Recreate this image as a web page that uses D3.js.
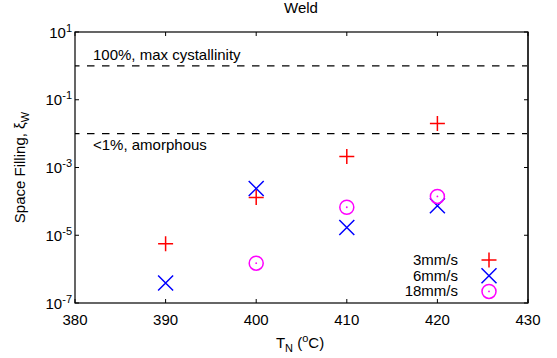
<!DOCTYPE html>
<html>
<head>
<meta charset="utf-8">
<script src="https://cdn.jsdelivr.net/npm/d3@7"></script>
<style>
  body { margin: 0; background: #fff; }
  text { font-family: "Liberation Sans", Arial, sans-serif; fill: #000; }
</style>
</head>
<body>
<svg id="chart" width="557" height="358"></svg>
<script>
// data
const temps = [390, 400, 410, 420];
const fill3 = [5.6e-6, 1.3e-4, 2.1e-3, 2.0e-2];
const fill6 = [3.9e-7, 2.4e-4, 1.7e-5, 7.4e-5];
const fill18 = [null, 1.5e-6, 6.7e-5, 1.4e-4];
const xTicks = [380, 390, 400, 410, 420, 430];
const yTickExps = [1, -1, -3, -5, -7];
const refLines = [
  { v: 1, label: "100%, max cystallinity", above: true },
  { v: 0.01, label: "<1%, amorphous", above: false }
];
const seriesNames = ["3mm/s", "6mm/s", "18mm/s"];

let width = 557, height = 358;
let margin = { left: 75, right: 29, top: 32, bottom: 55 };
let svg = d3.select("#chart");
let fs = 15, fsSmall = 11;

let x = d3.scaleLinear().domain([380, 430]).range([margin.left, width - margin.right]);
let y = d3.scaleLog().domain([1e-7, 1e1]).range([height - margin.bottom, margin.top]);

let x0 = x.range()[0], x1 = x.range()[1], y0 = y.range()[0], y1 = y.range()[1];

// dashed reference lines
refLines.forEach(function(r) {
  svg.append("line")
    .attr("x1", x0).attr("x2", x1)
    .attr("y1", y(r.v)).attr("y2", y(r.v))
    .attr("stroke", "#000").attr("stroke-width", 1.2)
    .attr("stroke-dasharray", "7.5,7.5").attr("stroke-dashoffset", 3);
  svg.append("text")
    .attr("x", x0 + 18)
    .attr("y", r.above ? y(r.v) - 6 : y(r.v) + 16)
    .attr("font-size", fs)
    .text(r.label);
});

// frame
svg.append("rect")
  .attr("x", x0).attr("y", y1)
  .attr("width", x1 - x0).attr("height", y0 - y1)
  .attr("fill", "none").attr("stroke", "#000").attr("stroke-width", 1.2);
svg.append("line").attr("x1", x1).attr("x2", x1).attr("y1", y1).attr("y2", y0)
  .attr("stroke", "#333").attr("stroke-width", 2);

// inward ticks on all sides
let tl = 4;
xTicks.forEach(function(t) {
  svg.append("line").attr("x1", x(t)).attr("x2", x(t)).attr("y1", y0).attr("y2", y0 - tl).attr("stroke", "#000");
  svg.append("line").attr("x1", x(t)).attr("x2", x(t)).attr("y1", y1).attr("y2", y1 + tl).attr("stroke", "#000");
  svg.append("text")
    .attr("x", x(t)).attr("y", y0 + 22)
    .attr("text-anchor", "middle").attr("font-size", fs)
    .text(t);
});
yTickExps.forEach(function(e) {
  let yy = y(Math.pow(10, e));
  svg.append("line").attr("x1", x0).attr("x2", x0 + tl).attr("y1", yy).attr("y2", yy).attr("stroke", "#000");
  svg.append("line").attr("x1", x1).attr("x2", x1 - tl).attr("y1", yy).attr("y2", yy).attr("stroke", "#000");
  let t = svg.append("text")
    .attr("x", x0 - 3).attr("y", yy + 5.5)
    .attr("text-anchor", "end").attr("font-size", fs);
  t.append("tspan").text("10");
  t.append("tspan").attr("dy", -6).attr("font-size", fsSmall).text(e);
});

// title and axis labels
svg.append("text").attr("x", 301).attr("y", 13)
  .attr("text-anchor", "middle").attr("font-size", fs).text("Weld");

let xl = svg.append("text").attr("x", 300).attr("y", 348)
  .attr("text-anchor", "middle").attr("font-size", fs);
xl.append("tspan").text("T");
xl.append("tspan").attr("dy", 4).attr("font-size", fsSmall).text("N");
xl.append("tspan").attr("dy", -4).text(" (");
xl.append("tspan").attr("dy", -6).attr("font-size", fsSmall).text("o");
xl.append("tspan").attr("dy", 6).text("C)");

let yl = svg.append("text")
  .attr("transform", "translate(25," + ((y0 + y1) / 2) + ") rotate(-90)")
  .attr("text-anchor", "middle").attr("font-size", fs);
yl.append("tspan").text("Space Filling, \u03be");
yl.append("tspan").attr("dy", 4).attr("font-size", fsSmall).text("W");

// markers
function plus(g, cx, cy, c) {
  g.append("path").attr("d", `M${cx - 7.5},${cy}H${cx + 7.5}M${cx},${cy - 7.5}V${cy + 7.5}`)
    .attr("stroke", c).attr("stroke-width", 1.5).attr("fill", "none");
}
function cross(g, cx, cy, c) {
  let s = 7.5;
  g.append("path").attr("d", `M${cx - s},${cy - s}L${cx + s},${cy + s}M${cx - s},${cy + s}L${cx + s},${cy - s}`)
    .attr("stroke", c).attr("stroke-width", 1.5).attr("fill", "none");
}
function circ(g, cx, cy, c) {
  g.append("circle").attr("cx", cx).attr("cy", cy).attr("r", 7)
    .attr("stroke", c).attr("stroke-width", 1.5).attr("fill", "none");
  g.append("circle").attr("cx", cx).attr("cy", cy).attr("r", 0.9).attr("fill", c);
}

let series = [
  { vals: fill3, color: "#ff0000", mark: plus },
  { vals: fill6, color: "#0000ff", mark: cross },
  { vals: fill18, color: "#ff00ff", mark: circ }
];

let pts = svg.append("g");
series.forEach(function(s) {
  s.vals.forEach(function(v, i) {
    if (v == null) return;
    s.mark(pts, x(temps[i]), y(v), s.color);
  });
});

// legend
let leg = svg.append("g");
series.forEach(function(s, i) {
  let ly = 260 + i * 15.7;
  leg.append("text").attr("x", 458).attr("y", ly + 5)
    .attr("text-anchor", "end").attr("font-size", fs).text(seriesNames[i]);
  s.mark(leg, 489, ly, s.color);
});
</script>
</body>
</html>
